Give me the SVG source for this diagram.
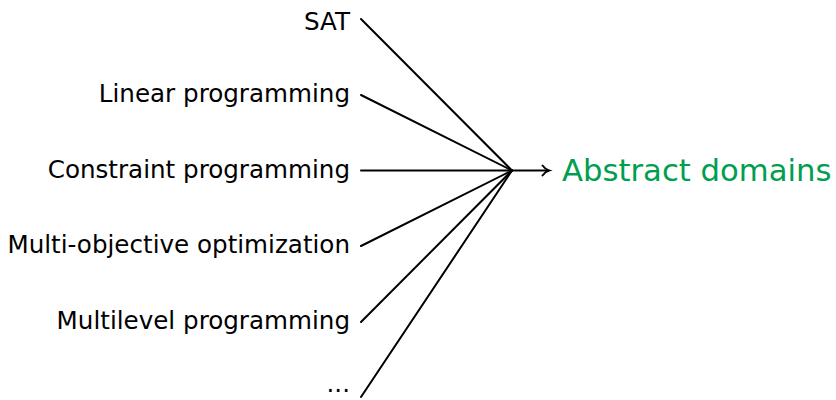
<svg xmlns="http://www.w3.org/2000/svg" width="836" height="400" viewBox="0 0 836 400">
  <style>
    .lbl { font-family: "DejaVu Sans", "Liberation Sans", sans-serif; font-size: 24.6px; fill: #000; text-anchor: end; }
    .target { font-family: "DejaVu Sans", "Liberation Sans", sans-serif; font-size: 30.7px; fill: #009e4f; }
    .edge { stroke: #000; stroke-width: 2; fill: none; stroke-linecap: round; }
  </style>
  <rect width="836" height="400" fill="#fff"/>

  <!-- source problems, right-aligned -->
  <g id="n-sat"><text class="lbl" x="350" y="30">SAT</text></g>
  <g id="n-lp"><text class="lbl" x="350" y="102">Linear programming</text></g>
  <g id="n-cp"><text class="lbl" x="350" y="178">Constraint programming</text></g>
  <g id="n-moo"><text class="lbl" x="350" y="253">Multi-objective optimization</text></g>
  <g id="n-mlp"><text class="lbl" x="350" y="329">Multilevel programming</text></g>
  <g id="n-more"><text class="lbl" x="350" y="392">...</text></g>

  <!-- target -->
  <g id="n-absdom"><text class="target" x="562" y="181">Abstract domains</text></g>

  <!-- connectors converging on one point, then a single arrow -->
  <g id="connectors">
    <path class="edge" d="M361,19 L512,170.5"/>
    <path class="edge" d="M361,95 L512,170.5"/>
    <path class="edge" d="M361,170.5 L512,170.5"/>
    <path class="edge" d="M361,246 L512,170.5"/>
    <path class="edge" d="M361,322 L512,170.5"/>
    <path class="edge" d="M361,397 L512,170.5"/>
    <path class="edge" d="M512,170.5 L548,170.5"/>
    <path class="edge" d="M542.5,165.5 Q545.5,169.5 549,170.5 Q545.5,171.5 542.5,175.5"/>
  </g>
</svg>
